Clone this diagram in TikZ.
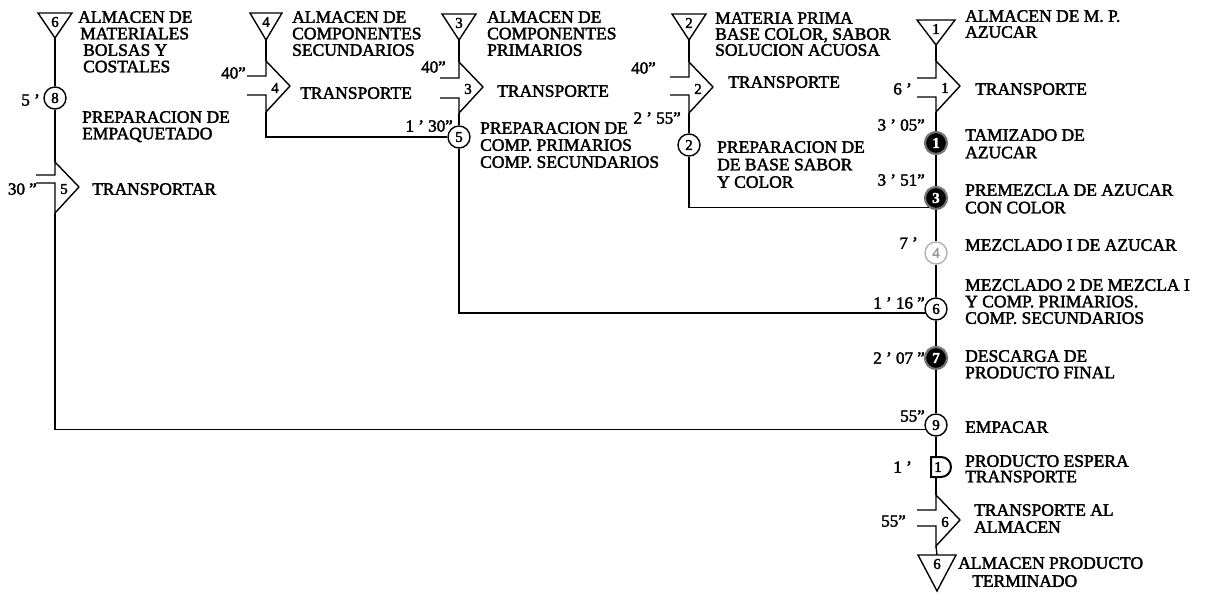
\documentclass[tikz,border=0pt]{standalone}
\usepackage{fontspec}
\setmainfont{Liberation Serif}[FakeBold=2.2]
\tikzset{
  flow/.style={line width=1.4pt, line join=miter},
  lbl/.style={font=\fontsize{17.5}{16.5}\selectfont, align=left, anchor=north west, inner sep=0pt},
  tm/.style={font=\fontsize{17}{17}\selectfont, anchor=east, inner sep=0pt},
  num/.style={font=\fontsize{15}{15}\selectfont, inner sep=0pt},
  opw/.style={circle, draw, line width=1.4pt, minimum size=22pt, inner sep=0pt, font=\fontsize{15}{15}\selectfont},
  opb/.style={opw, fill=black, text=white, draw=black!55, line width=2.2pt, font=\bfseries\fontsize{15}{15}\selectfont},
  opl/.style={opw, draw=black!30, text=black!40},
}
% transport symbol: name, x, top, number, tick1, tick2
\newcommand\Transp[6]{%
  \coordinate (#1-top) at (#2,#3);
  \coordinate (#1-bot) at (#2,#3+51);
  \coordinate (#1-tip) at (#2+24,#3+25);
  \draw[flow] (#1-tip) -- (#1-top) -- ++(0,#5) -- ++(-19,0);
  \draw[flow] (#2-19,#3+#6) -- ++(19,0) -- (#1-bot) -- (#1-tip);
  \node[num] (#1-n) at (#2+9,#3+27) {#4};
}
% storage triangle: name, x, top, height, half width, number
\newcommand\Tri[6]{%
  \coordinate (#1-apex) at (#2,#3+#4);
  \coordinate (#1-top) at (#2,#3);
  \draw[flow] (#2-#5,#3) -- (#2+#5,#3) -- (#1-apex) -- cycle;
  \node[num] (#1-n) at (#2,#3+9) {#6};
}
\begin{document}
\begin{tikzpicture}[x=1pt,y=-1pt]
\useasboundingbox (0,0) rectangle (1206,603);

% ---------- column A (x=55)
\Tri{TA}{55}{13}{25}{17}{6}
\node[lbl] (lA) at (78,11) {ALMACEN DE\\\hspace*{2pt}MATERIALES\\\hspace*{5pt}BOLSAS Y\\\hspace*{5pt}COSTALES};
\node[opw] (c8) at (55,98) {8};
\node[tm] (t8) at (40,100) {5 '};
\node[lbl] (l8) at (82,111) {PREPARACION DE\\EMPAQUETADO};
\Transp{T5}{55}{162}{5}{13}{21}
\node[tm] (t5) at (37,189) {30 "};
\node[lbl] (l5) at (92,183) {TRANSPORTAR};

% ---------- column B (x=266)
\Tri{TB}{266}{13}{27}{16}{4}
\node[lbl] (lB) at (292,11) {ALMACEN DE\\COMPONENTES\\SECUNDARIOS};
\Transp{T4}{266}{61}{4}{15}{34}
\node[tm] (t4) at (246,73) {40"};
\node[lbl] (l4) at (300,87) {TRANSPORTE};

% ---------- column C (x=459)
\Tri{TC}{459}{14}{26}{17}{3}
\node[lbl] (lC) at (487,11) {ALMACEN DE\\COMPONENTES\\PRIMARIOS};
\Transp{T3}{459}{62}{3}{16}{36}
\node[tm] (t3) at (446,67) {40"};
\node[lbl] (l3) at (497,85) {TRANSPORTE};
\node[opw] (c5) at (459,137) {5};
\node[tm] (t5b) at (453,126) {1 ' 30"};
\node[lbl, font=\fontsize{17.5}{17}\selectfont] (l5b) at (480,122) {PREPARACION DE\\COMP. PRIMARIOS\\COMP. SECUNDARIOS};

% ---------- column D (x=689)
\Tri{TD}{689}{14}{26}{17}{2}
\node[lbl, font=\fontsize{17.5}{16}\selectfont] (lD) at (715,12) {MATERIA PRIMA\\BASE COLOR, SABOR\\SOLUCION ACUOSA};
\Transp{T2}{689}{62}{2}{15}{33}
\node[tm] (t2) at (656,68) {40"};
\node[lbl] (l2) at (728,76) {TRANSPORTE};
\node[opw] (c2) at (689,145) {2};
\node[tm] (t2b) at (681,118) {2 ' 55"};
\node[lbl, font=\fontsize{17.5}{17.5}\selectfont] (l2b) at (717,141) {PREPARACION DE\\DE BASE SABOR\\Y COLOR};

% ---------- main column (x=936)
\Tri{T0}{936}{20}{25}{19}{1}
\node[lbl, font=\fontsize{17.5}{16}\selectfont] (l0) at (965,10) {ALMACEN DE M. P.\\AZUCAR};
\Transp{T1}{936}{61}{1}{17}{36}
\node[tm] (t1) at (912,89) {6 '};
\node[lbl] (l1) at (975,83) {TRANSPORTE};
\node[opb] (c1) at (936,143) {1};
\node[tm] (t1b) at (925,125) {3 ' 05"};
\node[lbl, font=\fontsize{17.5}{17.5}\selectfont] (l1b) at (965,129) {TAMIZADO DE\\AZUCAR};
\node[opb] (c3) at (936,198) {3};
\node[tm] (t3b) at (925,180) {3 ' 51"};
\node[lbl, font=\fontsize{17.5}{17.5}\selectfont] (l3b) at (965,184) {PREMEZCLA DE AZUCAR\\CON COLOR};
\node[opl] (c4) at (936,253) {4};
\node[tm] (t4b) at (918,243) {7 '};
\node[lbl] (l4b) at (965,239) {MEZCLADO I DE AZUCAR};
\node[opw] (c6) at (936,309) {6};
\node[tm] (t6b) at (925,303) {1 ' 16 "};
\node[lbl, font=\fontsize{17.5}{16.5}\selectfont] (l6b) at (965,279) {MEZCLADO 2 DE MEZCLA I\\Y COMP. PRIMARIOS.\\COMP. SECUNDARIOS};
\node[opb] (c7) at (936,358) {7};
\node[tm] (t7b) at (925,358) {2 ' 07 "};
\node[lbl] (l7b) at (965,350) {DESCARGA DE\\PRODUCTO FINAL};
\node[opw] (c9) at (936,425) {9};
\node[tm] (t9b) at (925,416) {55"};
\node[lbl] (l9b) at (965,421) {EMPACAR};
% delay
\coordinate (D-top) at (936,457);
\coordinate (D-bot) at (936,477);
\draw[flow, line width=2pt] (931,457) -- (931,477) -- (941,477) arc[start angle=90, end angle=-90, radius=10] -- cycle;
\node[num] (D-n) at (938,467) {1};
\node[tm] (tD) at (912,467) {1 '};
\node[lbl, font=\fontsize{17.5}{15.5}\selectfont] (lD2) at (965,455) {PRODUCTO ESPERA\\TRANSPORTE};
\Transp{T6}{936}{495}{6}{15}{31}
\node[tm] (t6) at (906,521) {55"};
\node[lbl, font=\fontsize{17.5}{17}\selectfont] (l6) at (974,504) {TRANSPORTE AL\\ALMACEN};
\Tri{TZ}{937}{555}{36}{19}{6}
\node[lbl, font=\fontsize{17.5}{18}\selectfont] (lZ) at (958,557) {ALMACEN PRODUCTO\\\hspace*{14pt}TERMINADO};

% ---------- connectors
\draw[flow] (TA-apex) -- (c8);
\draw[flow] (c8) -- (T5-top);
\draw[flow] (T5-bot) |- (c9.204);

\draw[flow] (TB-apex) -- (T4-top);
\draw[flow] (T4-bot) |- (c5.west);

\draw[flow] (TC-apex) -- (T3-top);
\draw[flow] (T3-bot) -- (c5);
\draw[flow] (c5.south) |- (c6.200);

\draw[flow] (TD-apex) -- (T2-top);
\draw[flow] (T2-bot) -- (c2);
\draw[flow] (c2.south) |- (c3.233);

\draw[flow] (T0-apex) -- (T1-top);
\draw[flow] (T1-bot) -- (c1);
\draw[flow] (c1) -- (c3);
\draw[flow] (c3) -- (c4);
\draw[flow] (c4) -- (c6);
\draw[flow] (c6) -- (c7);
\draw[flow] (c7) -- (c9);
\draw[flow] (c9) -- (D-top);
\draw[flow] (D-bot) -- (T6-top);
\draw[flow] (T6-bot) -- (TZ-top);
\end{tikzpicture}
\end{document}
